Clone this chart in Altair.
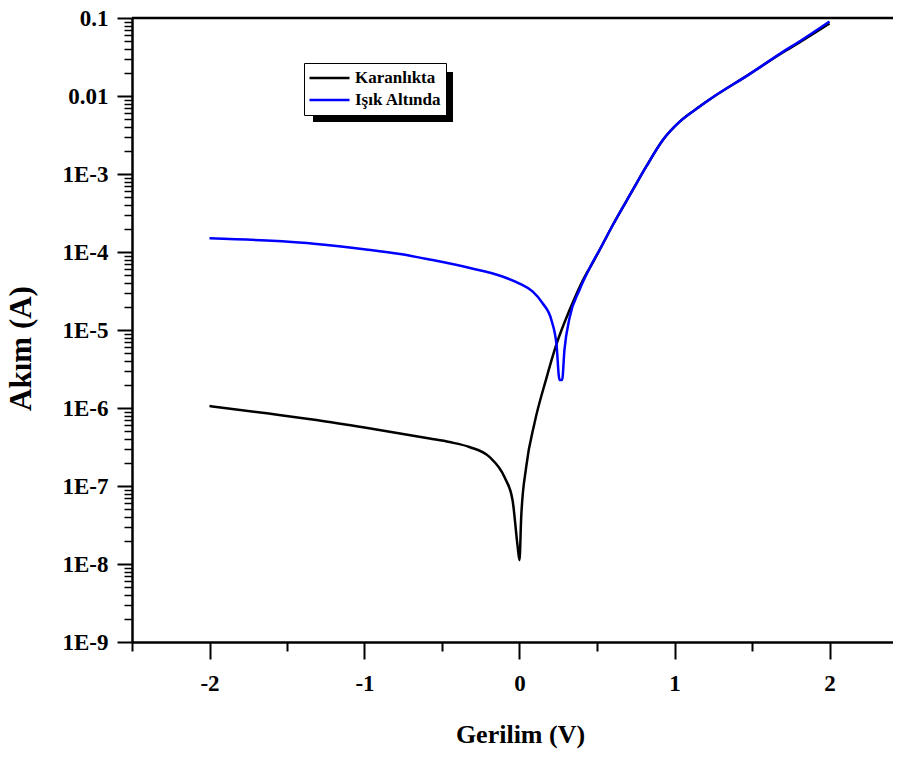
import altair as alt
import pandas as pd

# ---- data ----
series_names = ["Karanlıkta", "Işık Altında"]
series_colors = ["#000000", "#0000FF"]

dark_v = [-2.0, -1.63, -1.31, -0.99, -0.58, -0.452, -0.323, -0.194, -0.097, -0.045, -0.013, 0.0,
          0.011, 0.043, 0.097, 0.172, 0.237, 0.323, 0.43, 0.452, 0.527, 0.602, 0.731, 0.817,
          0.925, 1.032, 1.14, 1.226, 1.484, 1.699, 1.806, 2.0]
dark_i = [1.06e-6, 8.55e-7, 7.02e-7, 5.58e-7, 4.06e-7, 3.66e-7, 3.16e-7, 2.36e-7, 1.30e-7,
          6.62e-8, 1.75e-8, 1.12e-8, 4.01e-8, 1.75e-7, 6.43e-7, 2.35e-6, 6.43e-6, 1.80e-5,
          5.22e-5, 6.18e-5, 1.16e-4, 2.22e-4, 6.24e-4, 1.24e-3, 2.73e-3, 4.65e-3, 6.81e-3,
          9.02e-3, 1.91e-2, 3.61e-2, 4.85e-2, 8.49e-2]

light_v = [-2.0, -1.63, -1.31, -0.99, -0.77, -0.58, -0.32, -0.11, 0.0, 0.084, 0.148, 0.206,
           0.239, 0.258, 0.275, 0.29, 0.323, 0.387, 0.452, 0.527, 0.602, 0.731, 0.817,
           0.925, 1.032, 1.14, 1.226, 1.484, 1.699, 1.806, 2.0]
light_i = [1.50e-4, 1.40e-4, 1.27e-4, 1.08e-4, 9.42e-5, 8.01e-5, 6.24e-5, 4.85e-5, 3.94e-5,
           3.12e-5, 2.22e-5, 1.34e-5, 6.43e-6, 2.29e-6, 2.29e-6, 5.55e-6, 1.43e-5, 3.26e-5,
           6.18e-5, 1.16e-4, 2.22e-4, 6.24e-4, 1.24e-3, 2.73e-3, 4.65e-3, 6.81e-3, 9.02e-3,
           1.91e-2, 3.68e-2, 5.00e-2, 9.02e-2]

x_ticks = [-2, -1, 0, 1, 2]
x_minor = [-2.5, -1.5, -0.5, 0.5, 1.5]
y_ticks = [1e-9, 1e-8, 1e-7, 1e-6, 1e-5, 1e-4, 1e-3, 1e-2, 1e-1]
y_tick_labels = ["1E-9", "1E-8", "1E-7", "1E-6", "1E-5", "1E-4", "1E-3", "0.01", "0.1"]
y_exps = [-9, -8, -7, -6, -5, -4, -3, -2, -1]
y_minor = [m * 10.0 ** e for e in range(-9, -1) for m in range(2, 10)]

x_title = "Gerilim (V)"
y_title = "Akım (A)"

# ---- table ----
df = pd.concat([
    pd.DataFrame({"V": dark_v, "I": dark_i, "series": series_names[0]}),
    pd.DataFrame({"V": light_v, "I": light_i, "series": series_names[1]}),
], ignore_index=True)

FONT = "Liberation Serif"
W, H = 761, 624

y_major_test = "abs(log(datum.value)/LN10 - round(log(datum.value)/LN10)) < 0.001"
y_label_expr = "".join(
    f"({y_major_test}) && round(log(datum.value)/LN10) == {e} ? '{lab}' : "
    for e, lab in zip(y_exps, y_tick_labels)
) + "''"
x_major_test = "abs(datum.value - round(datum.value)) < 0.001"
x_label_expr = f"({x_major_test}) ? '' + round(datum.value) : ''"

xscale = alt.Scale(domain=[-2.5, -2.5 + W / 155.0], nice=False, zero=False)
yscale = alt.Scale(type="log", domain=[1e-9, 0.1], nice=False)

common_axis = dict(labelFont=FONT, labelFontWeight="bold", labelFontSize=23, labelColor="black",
                   domainColor="black", domainWidth=2.5, tickColor="black",
                   grid=False, titleFont=FONT, titleFontWeight="bold", titleColor="black",
                   tickCount=200, labelOverlap=False)

lines = alt.Chart(df).mark_line(strokeWidth=2.5, interpolate="monotone").encode(
    x=alt.X("V:Q", scale=xscale,
            axis=alt.Axis(orient="bottom", values=x_ticks + x_minor, labelExpr=x_label_expr,
                          tickSize={"condition": {"test": x_major_test, "value": 17}, "value": 9},
                          tickWidth=2,
                          labelPadding=13, title=x_title, titleX=388, titleY=100,
                          titleBaseline="alphabetic", titleAlign="center", titleFontSize=26,
                          **common_axis)),
    y=alt.Y("I:Q", scale=yscale,
            axis=alt.Axis(orient="left", values=y_ticks + y_minor, labelExpr=y_label_expr,
                          tickSize={"condition": {"test": y_major_test, "value": 15}, "value": 8},
                          tickWidth={"condition": {"test": y_major_test, "value": 2}, "value": 1.5},
                          labelPadding=9, title=y_title, titleAngle=270,
                          titleX=-102, titleY=330, titleBaseline="alphabetic",
                          titleAlign="center", titleFontSize=31, **common_axis)),
    color=alt.Color("series:N", scale=alt.Scale(domain=series_names, range=series_colors),
                    legend=alt.Legend(orient="none", legendX=172, legendY=45, title=None,
                                      symbolType="stroke", symbolSize=1600,
                                      symbolStrokeWidth=2.5, clipHeight=22, rowPadding=0,
                                      labelOffset=4, padding=4, strokeColor="black",
                                      fillColor="white", labelFont=FONT, labelFontSize=17,
                                      labelFontWeight="bold", labelColor="black")),
)

shadow = alt.Chart(alt.Data(values=[{}])).mark_rect(color="black").encode(
    x=alt.value(181), x2=alt.value(321), y=alt.value(54), y2=alt.value(104)
)

top_line = alt.Chart(alt.Data(values=[{}])).mark_rule(color="black", strokeWidth=2.5).encode(
    x=alt.value(0), x2=alt.value(W), y=alt.value(0)
)

chart = alt.layer(shadow, top_line, lines).properties(
    width=W, height=H,
    padding={"left": 124, "top": 10, "right": 0, "bottom": 111},
    autosize=alt.AutoSizeParams(type="none"),
    background="white",
).configure_view(strokeWidth=0)

chart.save("out.html", embed_options={"renderer": "svg", "actions": False})
